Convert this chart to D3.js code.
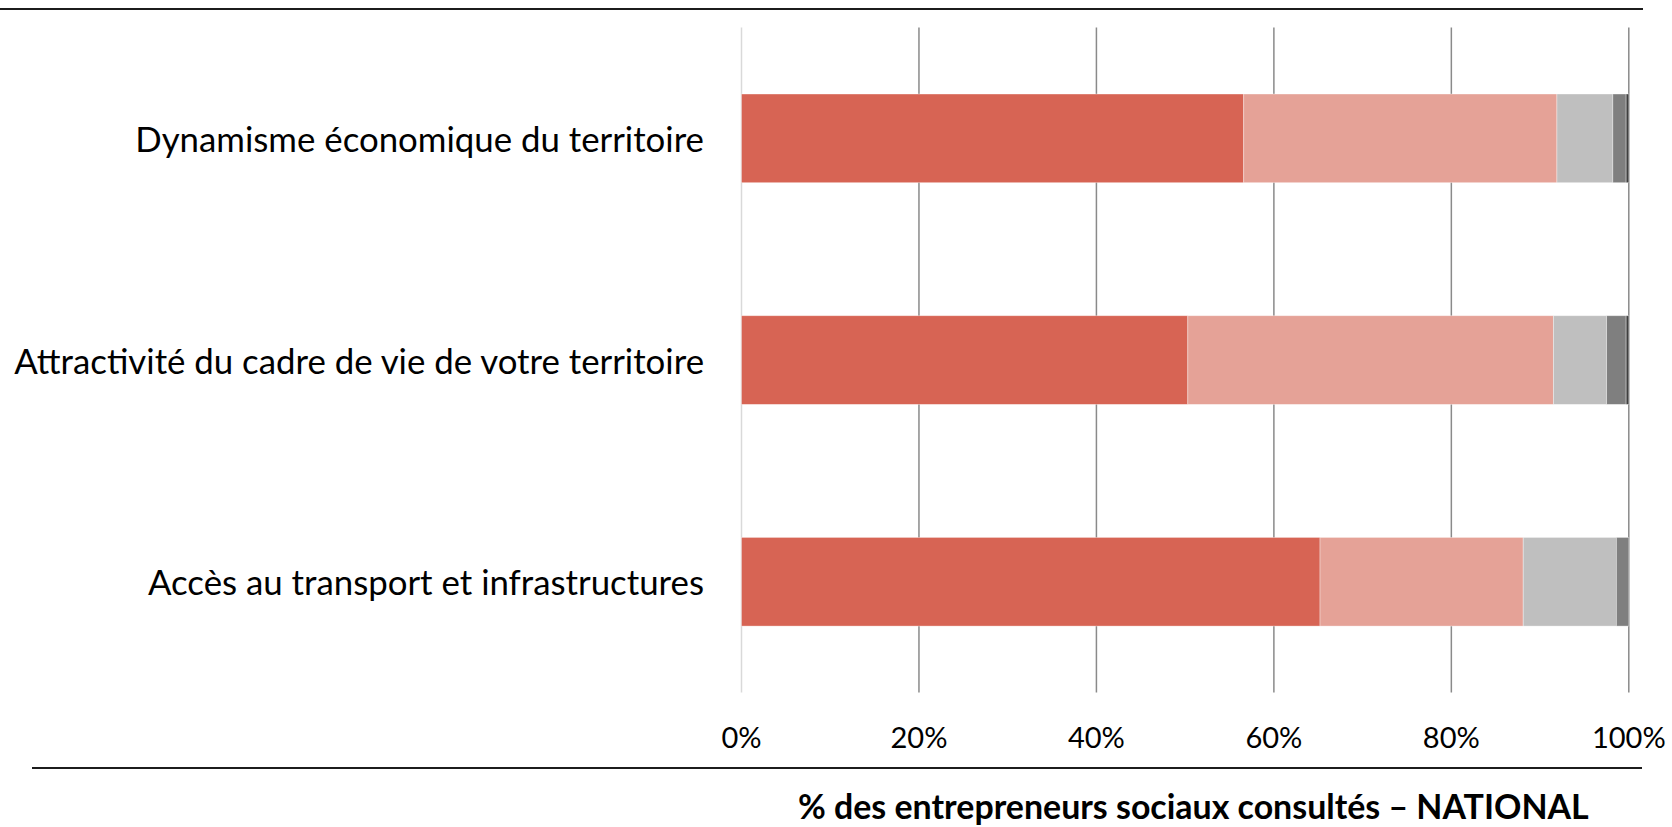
<!DOCTYPE html>
<html lang="fr">
<head>
<meta charset="utf-8">
<script src="https://cdn.jsdelivr.net/npm/d3@7/dist/d3.min.js"></script>
<style>
  html, body { margin: 0; padding: 0; background: #fff; }
  svg { display: block; font-family: Lato, "Open Sans", "Noto Sans", sans-serif; }
</style>
</head>
<body>
<svg id="chart" width="1672" height="827"></svg>
<script>
// Categories, top to bottom
const categories = [
  "Dynamisme économique du territoire",
  "Attractivité du cadre de vie de votre territoire",
  "Accès au transport et infrastructures"
];

// Share of respondents (%) for each response level, per category
const level1 = [56.6, 50.3, 65.2];
const level2 = [35.3, 41.2, 22.9];
const level3 = [6.3, 6.0, 10.5];
const level4 = [1.5, 2.2, 1.4];
const level5 = [0.3, 0.3, 0.0];

const tickValues = [0, 0.2, 0.4, 0.6, 0.8, 1.0];
const tickLabels = ["0%", "20%", "40%", "60%", "80%", "100%"];
const axisTitle = "% des entrepreneurs sociaux consultés – NATIONAL";

const seriesKeys = ["level1", "level2", "level3", "level4", "level5"];
const seriesValues = [level1, level2, level3, level4, level5];
const colors = ["#D76454", "#E5A297", "#BFBFBF", "#7F7F7F", "#404040"];

// Rows for the stack layout
const rows = categories.map((c, i) => {
  const r = { category: c };
  seriesKeys.forEach((k, j) => { r[k] = seriesValues[j][i] / 100; });
  return r;
});

const svg = d3.select("#chart");
const plot = { left: 741.5, right: 1628.8, top: 27.5, bottom: 692.6 };

const x = d3.scaleLinear().domain([0, 1]).range([plot.left, plot.right]);
const y = d3.scaleBand().domain(categories).range([plot.top, plot.bottom])
  .paddingInner(0.6).paddingOuter(0.3);

// Horizontal rules framing the chart
svg.append("line").attr("x1", 0).attr("x2", 1643).attr("y1", 9).attr("y2", 9)
  .attr("stroke", "#1c1c1c").attr("stroke-width", 2.2);
svg.append("line").attr("x1", 32).attr("x2", 1642).attr("y1", 768).attr("y2", 768)
  .attr("stroke", "#1c1c1c").attr("stroke-width", 2.2);

// Vertical gridlines
svg.append("g").selectAll("line").data(tickValues).join("line")
  .attr("x1", d => x(d)).attr("x2", d => x(d))
  .attr("y1", plot.top).attr("y2", plot.bottom)
  .attr("stroke", d => d === 0 ? "#d9d9d9" : "#8a8a8a")
  .attr("stroke-width", 1.5);

// Stacked bars
const stacked = d3.stack().keys(seriesKeys)(rows);
svg.append("g").selectAll("g").data(stacked).join("g")
  .attr("fill", (d, i) => colors[i])
  .selectAll("rect").data(d => d).join("rect")
  .attr("x", d => x(d[0]))
  .attr("y", d => y(d.data.category))
  .attr("width", d => Math.max(0, x(d[1]) - x(d[0])))
  .attr("height", y.bandwidth())
  .attr("stroke", "rgba(255,255,255,0.45)")
  .attr("stroke-width", 0.8);

// Sizes a text element so that a reference string spans a given width
function fitSize(str, weight, width) {
  const t = svg.append("text").attr("font-size", 100).attr("font-weight", weight).text(str);
  const w = t.node().getComputedTextLength();
  t.remove();
  return 100 * width / w;
}

const catSize = fitSize(categories[1], 400, 690);
const tickSize = fitSize("20%", 400, 57);
const titleSize = fitSize(axisTitle, 700, 791);

// Category labels
svg.append("g").selectAll("text").data(categories).join("text")
  .attr("x", 704)
  .attr("y", d => y(d) + y.bandwidth() / 2)
  .attr("text-anchor", "end")
  .attr("dominant-baseline", "central")
  .attr("font-size", catSize)
  .attr("fill", "#000")
  .text(d => d);

// Percentage axis labels
svg.append("g").selectAll("text").data(tickValues).join("text")
  .attr("x", d => x(d))
  .attr("y", 748)
  .attr("text-anchor", "middle")
  .attr("font-size", tickSize)
  .attr("fill", "#000")
  .text((d, i) => tickLabels[i]);

// Axis title
svg.append("text")
  .attr("x", 798).attr("y", 819)
  .attr("font-size", titleSize)
  .attr("font-weight", 700)
  .attr("fill", "#000")
  .text(axisTitle);
</script>
</body>
</html>
